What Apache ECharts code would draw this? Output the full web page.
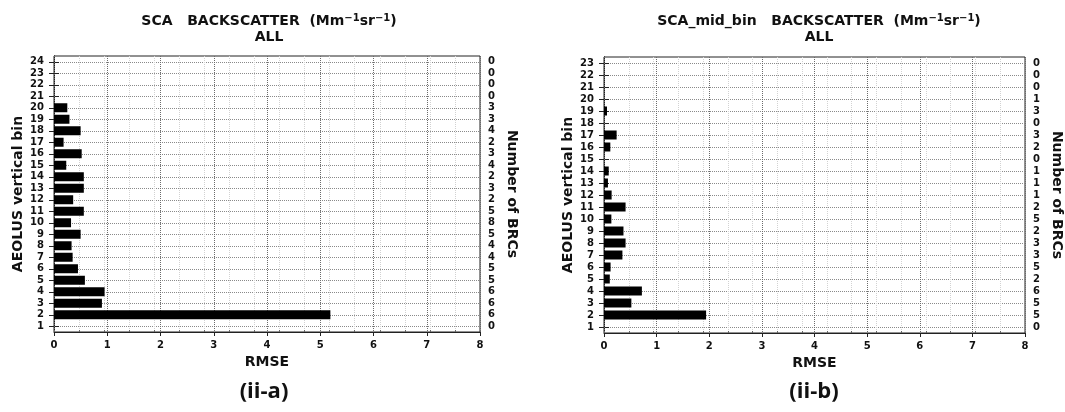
<!DOCTYPE html>
<html>
<head>
<meta charset="utf-8">
<script src="https://cdn.jsdelivr.net/npm/echarts@6/dist/echarts.min.js"></script>
<style>
  html, body { margin: 0; padding: 0; background: #fff; }
  #chart { width: 1065px; height: 412px; }
</style>
</head>
<body>
<div id="chart"></div>
<script>
// Panel (ii-a): SCA backscatter, bins 1..24
const binsA = ['1','2','3','4','5','6','7','8','9','10','11','12','13','14','15','16','17','18','19','20','21','22','23','24'];
const rmseA = [0, 5.19, 0.90, 0.95, 0.58, 0.45, 0.35, 0.33, 0.50, 0.32, 0.56, 0.36, 0.56, 0.56, 0.23, 0.52, 0.18, 0.50, 0.29, 0.25, 0, 0, 0, 0];
const brcA  = [0, 6, 6, 6, 5, 5, 4, 4, 5, 8, 5, 2, 3, 2, 4, 3, 2, 4, 3, 3, 0, 0, 0, 0];

// Panel (ii-b): SCA_mid_bin backscatter, bins 1..23
const binsB = ['1','2','3','4','5','6','7','8','9','10','11','12','13','14','15','16','17','18','19','20','21','22','23'];
const rmseB = [0, 1.94, 0.52, 0.72, 0.11, 0.125, 0.35, 0.41, 0.37, 0.14, 0.41, 0.145, 0.075, 0.09, 0, 0.12, 0.24, 0, 0.057, 0, 0, 0, 0];
const brcB  = [0, 5, 5, 6, 2, 5, 3, 3, 2, 5, 2, 1, 1, 1, 0, 2, 3, 0, 3, 1, 0, 0, 0];

// Title lines: product name, then the subset
const productNames = ['SCA', 'SCA_mid_bin'];
const subsetName = 'ALL';
const panelLabels = ['(ii-a)', '(ii-b)'];
const xName = 'RMSE';
const yName = 'AEOLUS vertical bin';
const y2Name = 'Number of BRCs';

const FONT = 'DejaVu Sans';
const INK = '#111';

const grids = [
  { left: 54, width: 426, top: 56, height: 276 },
  { left: 604, width: 424, top: 57, height: 276 }
];
const centers = [264, 814];

const panels = [
  { bins: binsA, rmse: rmseA, brc: brcA },
  { bins: binsB, rmse: rmseB, brc: brcB }
];

// title with real superscripts for the unit
function titleText(name) {
  return '{t|' + name + '   BACKSCATTER  (Mm}{s|\u22121}{t|sr}{s|\u22121}{t|)}\n{t|' + subsetName + '}';
}

const option = {
  backgroundColor: '#fff',
  animation: false,
  title: productNames.map((n, i) => ({
    text: titleText(n),
    left: centers[i],
    top: 8,
    textAlign: 'center',
    textStyle: {
      rich: {
        t: { fontFamily: FONT, fontWeight: 'bold', fontSize: 14, color: INK, lineHeight: 16 },
        s: { fontFamily: FONT, fontWeight: 'bold', fontSize: 10, color: INK, lineHeight: 10, verticalAlign: 'top' }
      }
    }
  })),
  grid: grids.map(g => Object.assign({
    show: true, borderColor: '#222', borderWidth: 1, backgroundColor: 'transparent'
  }, g)),
  xAxis: [],
  yAxis: [],
  series: [],
  graphic: panelLabels.map((t, i) => ({
    type: 'text',
    x: centers[i],
    y: 392,
    style: { text: t, font: 'bold 22px "Open Sans"', fill: '#111', align: 'center', verticalAlign: 'middle' }
  }))
};

panels.forEach((p, i) => {
  // main RMSE axis
  option.xAxis.push({
    gridIndex: i, type: 'value', min: 0, max: 8, interval: 1,
    name: xName, nameLocation: 'middle', nameGap: 22,
    nameTextStyle: { fontFamily: FONT, fontWeight: 'bold', fontSize: 14, color: INK },
    axisLine: { show: true, lineStyle: { color: '#222', width: 1 } },
    axisTick: { show: true, length: 4, lineStyle: { color: '#222' } },
    axisLabel: { fontFamily: FONT, fontWeight: 'bold', fontSize: 10, color: INK, margin: 8 },
    splitLine: { show: true, lineStyle: { type: 'dotted', color: '#6a6a6a', width: 1 } },
    z: 3
  });
  // finer half-unit grid
  option.xAxis.push({
    gridIndex: i, type: 'value', min: 0, max: 8.5, interval: 0.5, position: 'bottom',
    axisLine: { show: false },
    axisTick: { show: true, inside: true, length: 2, lineStyle: { color: '#666' } },
    axisLabel: { show: false },
    splitLine: { show: true, lineStyle: { type: 'dotted', color: '#d2d2d2', width: 1 } }
  });
  // bin axis (left)
  option.yAxis.push({
    gridIndex: i, type: 'category', data: p.bins, position: 'left',
    name: yName, nameLocation: 'middle', nameGap: 29,
    nameTextStyle: { fontFamily: FONT, fontWeight: 'bold', fontSize: 14, color: INK },
    axisLine: { show: true, lineStyle: { color: '#222' } },
    axisTick: { show: true, alignWithLabel: true, interval: 0, length: 5, lineStyle: { color: '#222' } },
    axisLabel: { interval: 0, fontFamily: FONT, fontWeight: 'bold', fontSize: 10, color: INK, margin: 10 },
    splitLine: { show: true, alignWithLabel: true, interval: 0, lineStyle: { type: 'dotted', color: '#8a8a8a', width: 1 } }
  });
  // BRC count axis (right)
  option.yAxis.push({
    gridIndex: i, type: 'category', data: p.bins, position: 'right',
    name: y2Name, nameLocation: 'middle', nameGap: 25, nameRotate: -90,
    nameTextStyle: { fontFamily: FONT, fontWeight: 'bold', fontSize: 14, color: INK },
    axisLine: { show: true, lineStyle: { color: '#222' } },
    axisTick: { show: true, alignWithLabel: true, interval: 0, length: 5, lineStyle: { color: '#222' } },
    axisLabel: {
      interval: 0, fontFamily: FONT, fontWeight: 'bold', fontSize: 10, color: INK, margin: 8,
      formatter: (v, idx) => String(p.brc[idx])
    },
    splitLine: { show: false }
  });
  option.series.push({
    type: 'bar',
    xAxisIndex: i * 2, yAxisIndex: i * 2,
    data: p.rmse,
    barWidth: 9,
    itemStyle: { color: '#000' },
    z: 4
  });
});

const chart = echarts.init(document.getElementById('chart'), null, { renderer: 'canvas' });
chart.setOption(option);
</script>
</body>
</html>
